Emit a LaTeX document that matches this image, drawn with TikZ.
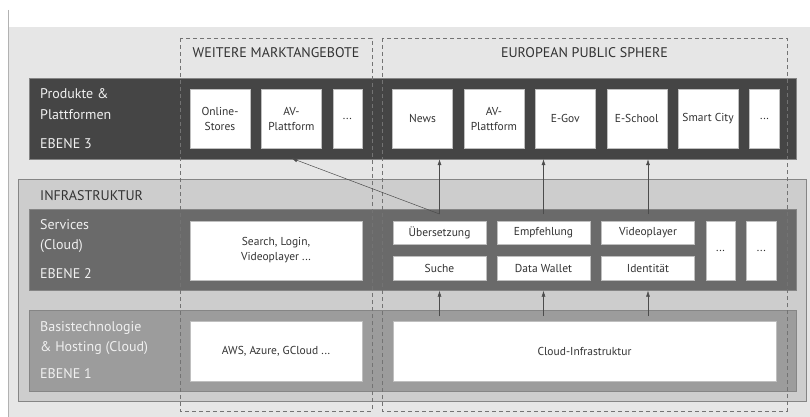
\documentclass[tikz,border=0pt]{standalone}
\usepackage{fontspec}
\setmainfont{PT Sans}
\usetikzlibrary{arrows.meta,positioning}

\definecolor{hgrund}{HTML}{E6E6E6}
\definecolor{infragrau}{HTML}{CDCDCD}
\definecolor{ebenedrei}{HTML}{454545}
\definecolor{ebenezwei}{HTML}{6A6A6A}
\definecolor{ebeneeins}{HTML}{9C9C9C}
\definecolor{rahmen}{HTML}{858585}
\definecolor{schrift}{HTML}{333333}

\tikzset{
	band/.style={draw=rahmen, inner sep=0pt, minimum width=767pt, minimum height=81pt},
	kasten/.style={fill=white, draw=black!25, inner sep=1pt, align=center, text=schrift,
		font=\fontsize{11.5}{15}\selectfont, minimum height=59pt, minimum width=60pt},
	flach/.style={kasten, minimum height=23.5pt, minimum width=93pt},
	titel/.style={text=white!94!black, anchor=base west, inner sep=0pt, font=\fontsize{14}{17}\selectfont},
	kopf/.style={text=schrift, anchor=base, inner sep=0pt, font=\fontsize{14}{17}\selectfont},
	bereich/.style={draw=black!55, dash pattern=on 4pt off 3pt, line width=0.5pt},
	pfeil/.style={-{Latex[length=6pt,width=4pt]}, draw=black!70, line width=0.5pt},
}

\begin{document}
\begin{tikzpicture}[x=1pt,y=-1pt]
	\useasboundingbox (0,0) rectangle (810,417);
	% hintergrund
	\fill[hgrund] (9,27) rectangle (810,417);
	\draw[black!30, line width=0.8pt] (8,10) -- (8,417);
	\node (infra) [fill=infragrau, draw=rahmen, inner sep=0pt, minimum width=788pt, minimum height=222pt] at (412,290) {};
	\node[titel, text=schrift] (infratitel) at (40,200) {INFRASTRUKTUR};

	% ebenen
	\node (band3) [band, fill=ebenedrei] at (412.5,118.5) {};
	\node (band2) [band, fill=ebenezwei] at (412.5,250) {};
	\node (band1) [band, fill=ebeneeins] at (412.5,351) {};

	\path (40,99) node (p3a) [titel] {Produkte \&}
		  (40,119) node (p3b) [titel] {Plattformen}
		  (40,148) node (p3c) [titel] {EBENE 3}
		  (40,229) node (p2a) [titel] {Services}
		  (40,249) node (p2b) [titel] {(Cloud)}
		  (40,278) node (p2c) [titel] {EBENE 2}
		  (40,331) node (p1a) [titel] {Basistechnologie}
		  (40,351) node (p1b) [titel] {\& Hosting (Cloud)}
		  (40,378) node (p1c) [titel] {EBENE 1};

	% bereiche
	\draw[bereich] (180,38) rectangle (372,411);
	\draw[bereich] (382,38) rectangle (787,411);
	\node[kopf] (markt) at (276,58) {WEITERE MARKTANGEBOTE};
	\node[kopf] (sphere) at (584.5,58) {EUROPEAN PUBLIC SPHERE};

	% ebene 3
	\node[kasten] (online) at (220,118.5) {Online-\\Stores};
	\node[kasten, right=11pt of online] (avmarkt) {AV-\\Plattform};
	\node[kasten, right=11pt of avmarkt, minimum width=29pt] (mehrmarkt) {...};
	\node[kasten] (news) at (422.5,118.5) {News};
	\node[kasten, right=11pt of news] (avpub) {AV-\\Plattform};
	\node[kasten, right=11pt of avpub] (egov) {E-Gov};
	\node[kasten, right=11pt of egov] (eschool) {E-School};
	\node[kasten, right=11pt of eschool] (smart) {Smart City};
	\node[kasten, right=11pt of smart, minimum width=30pt] (mehrpub) {...};

	% ebene 2
	\node[kasten, minimum width=172pt] (search) at (276,250.5) {Search, Login,\\Videoplayer ...};
	\node[flach] (uebers) at (439.5,232.5) {Übersetzung};
	\node[flach] (suche) at (439.5,268) {Suche};
	\node[flach] (empf) at (543.5,232.5) {Empfehlung};
	\node[flach] (wallet) at (543.5,268) {Data Wallet};
	\node[flach] (video) at (648,232.5) {Videoplayer};
	\node[flach] (ident) at (648,268) {Identität};
	\node[kasten, minimum width=29pt] (mehra) at (720.5,250.5) {...};
	\node[kasten, minimum width=30pt, right=11pt of mehra] (mehrb) {...};

	% ebene 1
	\node[kasten, minimum width=172pt, minimum height=60pt] (aws) at (276,351) {AWS, Azure, GCloud ...};
	\node[kasten, minimum width=383pt, minimum height=60pt] (cloud) at (584.5,351) {Cloud-Infrastruktur};

	% pfeile
	\coordinate (o1) at (439.5,214);
	\coordinate (o2) at (543.5,214);
	\coordinate (o3) at (648,214);
	\coordinate (u1) at (439.5,316);
	\coordinate (u2) at (543.5,316);
	\coordinate (u3) at (648,316);
	\draw[pfeil] (o1) -- (o1 |- band3.south);
	\draw[pfeil] (o2) -- (o2 |- band3.south);
	\draw[pfeil] (o3) -- (o3 |- band3.south);
	\draw[pfeil] (o1) -- ([yshift=1pt]avmarkt.south |- band3.south);
	\draw[pfeil] (u1) -- (u1 |- band2.south);
	\draw[pfeil] (u2) -- (u2 |- band2.south);
	\draw[pfeil] (u3) -- (u3 |- band2.south);
\end{tikzpicture}
\end{document}
